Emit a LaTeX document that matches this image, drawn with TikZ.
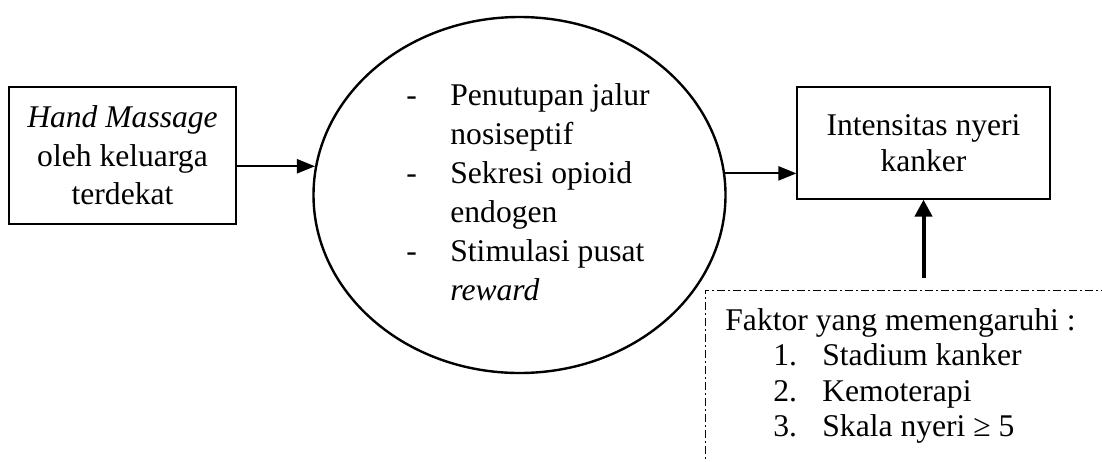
\documentclass[tikz,border=0pt]{standalone}
\usepackage{fontspec}
\setmainfont{Liberation Serif}
\usetikzlibrary{arrows.meta,shapes.geometric}
\begin{document}
\begin{tikzpicture}[x=0.5pt,y=-0.5pt,
  boxstyle/.style={draw,line width=0.6pt,rectangle,inner sep=0pt,align=center},
  arr/.style={line width=1.1pt,-{Triangle[length=9pt,width=7pt]}},
  arrv/.style={line width=2pt,-{Triangle[length=8.5pt,width=8.5pt]}},
  dashbox/.style={draw,line width=0.5pt,dash pattern=on 4pt off 1.5pt on 1pt off 1.5pt,rectangle,inner sep=0pt}
]
\clip (0,0) rectangle (1102,461);
\fill[white] (0,0) rectangle (1102,461);
\node[boxstyle,minimum width=113.5pt,minimum height=68.5pt,
  font=\fontsize{15.8}{19.3}\selectfont] (lbox) at (122.5,155.5)
  {\textit{Hand Massage}\\oleh keluarga\\terdekat};
\node[draw,line width=1.2pt,ellipse,minimum width=206pt,minimum height=178pt,inner sep=0pt] (ell) at (519.5,195) {};
\node[anchor=base west,inner sep=0pt,font=\fontsize{15.8}{19.5}\selectfont] (mech) at (406,105)
  {\begin{tabular}[t]{@{}p{22pt}@{}l@{}}
  - & Penutupan jalur\\
    & nosiseptif\\
  - & Sekresi opioid\\
    & endogen\\
  - & Stimulasi pusat\\
    & \textit{reward}
  \end{tabular}};
\node[boxstyle,minimum width=126.5pt,minimum height=56pt,
  font=\fontsize{15.8}{18}\selectfont] (rbox) at (923.5,143)
  {Intensitas nyeri\\kanker};
\node[dashbox,minimum width=250pt,minimum height=150pt] (fbox) at (955,440) {};
\node[anchor=base west,inner sep=0pt,font=\fontsize{15.8}{17.8}\selectfont] (ftext) at (725,330)
  {\begin{tabular}[t]{@{}p{24pt}@{}p{24.5pt}@{}l@{}}
  \multicolumn{3}{@{}l@{}}{Faktor yang memengaruhi :}\\
   & 1. & Stadium kanker\\
   & 2. & Kemoterapi\\
   & 3. & Skala nyeri ≥ 5
  \end{tabular}};
\draw[arr] (ell.172 -| lbox.east) -- (ell.172);
\draw[arr] (ell.6.4) -- (ell.6.4 -| rbox.west);
\coordinate (vstart) at (923.5,278);
\draw[arrv] (vstart) -- (rbox.south);
\end{tikzpicture}
\end{document}
